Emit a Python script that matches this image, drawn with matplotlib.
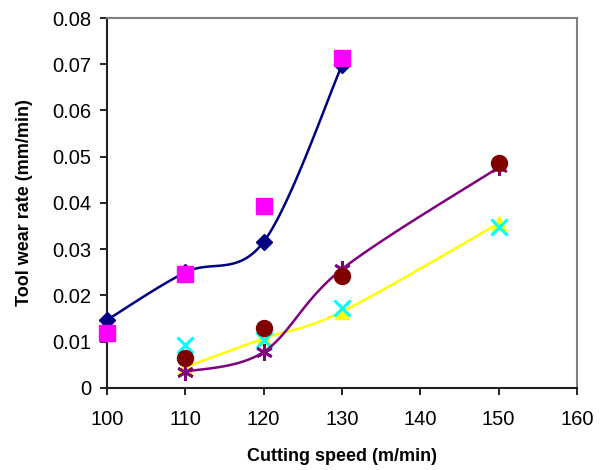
import numpy as np
import matplotlib
matplotlib.use("Agg")
import matplotlib.pyplot as plt
from matplotlib.ticker import FuncFormatter

plt.rcParams['font.family'] = ['Liberation Sans', 'DejaVu Sans']

# data
speed_a = [100, 110, 120, 130]
navy_line = [0.0147, 0.0250, 0.0316, 0.0698]
magenta_pts = [0.0118, 0.0247, 0.0393, 0.0714]

speed_b = [110, 120, 130, 150]
yellow_line = [0.0045, 0.0107, 0.0165, 0.0356]
cyan_pts = [0.0093, 0.0104, 0.0174, 0.0348]
purple_line = [0.0035, 0.0078, 0.0257, 0.0477]
brown_pts = [0.0065, 0.0130, 0.0242, 0.0487]

x_ticks = [100, 110, 120, 130, 140, 150, 160]
y_ticks = [0, 0.01, 0.02, 0.03, 0.04, 0.05, 0.06, 0.07, 0.08]


def smooth(x, y, n=40):
    # excel-like smoothed line (bezier, catmull-rom controls)
    x = np.asarray(x, float)
    y = np.asarray(y, float)
    px, py = [], []
    for i in range(len(x) - 1):
        i0 = max(i - 1, 0)
        i3 = min(i + 2, len(x) - 1)
        c1x = x[i] + (x[i + 1] - x[i0]) / 6
        c1y = y[i] + (y[i + 1] - y[i0]) / 6
        c2x = x[i + 1] - (x[i3] - x[i]) / 6
        c2y = y[i + 1] - (y[i3] - y[i]) / 6
        t = np.linspace(0, 1, n)
        px.extend((1-t)**3*x[i] + 3*(1-t)**2*t*c1x + 3*(1-t)*t**2*c2x + t**3*x[i+1])
        py.extend((1-t)**3*y[i] + 3*(1-t)**2*t*c1y + 3*(1-t)*t**2*c2y + t**3*y[i+1])
    return px, py


fig = plt.figure(figsize=(6.1, 4.7), dpi=100)
ax = fig.add_axes([0.1754, 0.1745, 0.7705, 0.7872])

sx, sy = smooth(speed_a, navy_line)
ax.plot(sx, sy, color='#000080', lw=1.8, zorder=2)
ax.plot(speed_a, navy_line, 'D', color='#000080', ms=8.5, zorder=3, clip_on=False)
ax.plot(speed_a, magenta_pts, 's', color='#FF00FF', ms=11, zorder=4, clip_on=False)

sx, sy = smooth(speed_b, yellow_line)
ax.plot(sx, sy, color='#FFFF00', lw=1.8, zorder=5)
ax.plot(speed_b, yellow_line, '^', color='#FFFF00', ms=10, zorder=5)
ax.plot(speed_b, cyan_pts, 'x', color='#00FFFF', ms=11, mew=2.2, zorder=6)

sx, sy = smooth(speed_b, purple_line)
ax.plot(sx, sy, color='#800080', lw=1.8, zorder=7)
ax.plot(speed_b, purple_line, marker=(6, 2, 0), ls='none', color='#800080',
        ms=12, mew=2, zorder=7)
ax.plot(speed_b, brown_pts, 'o', color='#800000', ms=11.5, zorder=8)

ax.set_xlim(100, 160)
ax.set_ylim(0, 0.08)
ax.set_xticks(x_ticks)
ax.set_yticks(y_ticks)
ax.yaxis.set_major_formatter(FuncFormatter(lambda v, p: '0' if v == 0 else f'{v:.2f}'))
ax.tick_params(labelsize=14.5, direction='out', length=5, width=1.2)
ax.tick_params(axis='y', pad=6)
ax.tick_params(axis='x', pad=11)

for s in ['top', 'right']:
    ax.spines[s].set_color('#808080')
    ax.spines[s].set_linewidth(1.5)
for s in ['left', 'bottom']:
    ax.spines[s].set_color('#202020')
    ax.spines[s].set_linewidth(1.5)

ax.set_xlabel('Cutting speed (m/min)', fontsize=13, fontweight='bold')
ax.set_ylabel('Tool wear rate (mm/min)', fontsize=13, fontweight='bold')
ax.xaxis.set_label_coords(0.5, -0.162)
ax.yaxis.set_label_coords(-0.157, 0.5)

fig.savefig('out.png', dpi=100)
